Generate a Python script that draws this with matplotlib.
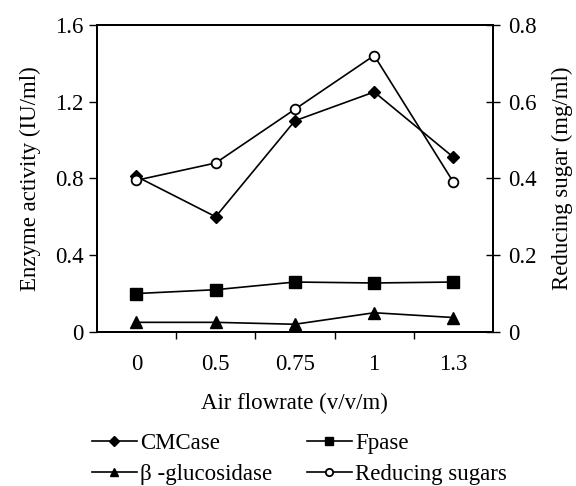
import matplotlib
matplotlib.use("Agg")
import matplotlib.pyplot as plt

plt.rcParams['font.family'] = ['Liberation Serif', 'DejaVu Serif']

# data
flowrates = ["0", "0.5", "0.75", "1", "1.3"]
cmcase = [0.81, 0.60, 1.10, 1.25, 0.91]
fpase = [0.20, 0.22, 0.26, 0.255, 0.26]
bgluc = [0.05, 0.05, 0.04, 0.10, 0.075]
sugars = [0.395, 0.44, 0.58, 0.72, 0.39]   # right axis

left_ticks = [0, 0.4, 0.8, 1.2, 1.6]
left_labels = ["0", "0.4", "0.8", "1.2", "1.6"]
right_ticks = [0, 0.2, 0.4, 0.6, 0.8]
right_labels = ["0", "0.2", "0.4", "0.6", "0.8"]

fs = 16.5

fig = plt.figure(figsize=(5.76, 4.86), dpi=100)
ax = fig.add_axes([0.168, 0.317, 0.688, 0.632])
ax2 = ax.twinx()

x = list(range(len(flowrates)))
lw = 1.2
h1, = ax.plot(x, cmcase, c='black', lw=lw, marker='D', ms=6.5, label='CMCase')
h2, = ax.plot(x, fpase, c='black', lw=lw, marker='s', ms=8, label='Fpase')
h3, = ax.plot(x, bgluc, c='black', lw=lw, marker='^', ms=8.5, label='β -glucosidase')
h4, = ax2.plot(x, sugars, c='black', lw=lw, marker='o', ms=7, mfc='white',
               mew=1.3, label='Reducing sugars')

ax.set_xlim(-0.5, 4.5)
ax.set_ylim(0, 1.6)
ax2.set_ylim(0, 0.8)

ax.set_xticks(x)
ax.set_xticklabels(flowrates, fontsize=fs)
ax.set_xticks([0.5, 1.5, 2.5, 3.5], minor=True)
ax.tick_params(axis='x', which='major', length=0, pad=16)
ax.tick_params(axis='x', which='minor', length=5, direction='out', width=1)

ax.set_yticks(left_ticks)
ax.set_yticklabels(left_labels, fontsize=fs)
ax.tick_params(axis='y', length=6, direction='out', width=1)
ax2.set_yticks(right_ticks)
ax2.set_yticklabels(right_labels, fontsize=fs)
ax2.tick_params(axis='y', length=10, direction='inout', width=1, pad=6)

for a in (ax, ax2):
    for s in a.spines.values():
        s.set_linewidth(1.4)

ax.set_xlabel("Air flowrate (v/v/m)", fontsize=fs, labelpad=13)
ax.set_ylabel("Enzyme activity (IU/ml)", fontsize=fs, labelpad=10)
ax2.set_ylabel("Reducing sugar (mg/ml)", fontsize=fs, labelpad=11)

# two legend columns, filled row by row as in the original
leg_kw = dict(loc='upper left', frameon=False, fontsize=fs, handlelength=1.95,
              handletextpad=0.15, labelspacing=0.45, borderaxespad=0, borderpad=0,
              markerscale=0.75)
fig.legend(handles=[h1, h3], bbox_to_anchor=(92 / 576, 0.11), **leg_kw)
fig.legend(handles=[h2, h4], bbox_to_anchor=(307 / 576, 0.11), **leg_kw)

fig.savefig("out.png", dpi=100)
